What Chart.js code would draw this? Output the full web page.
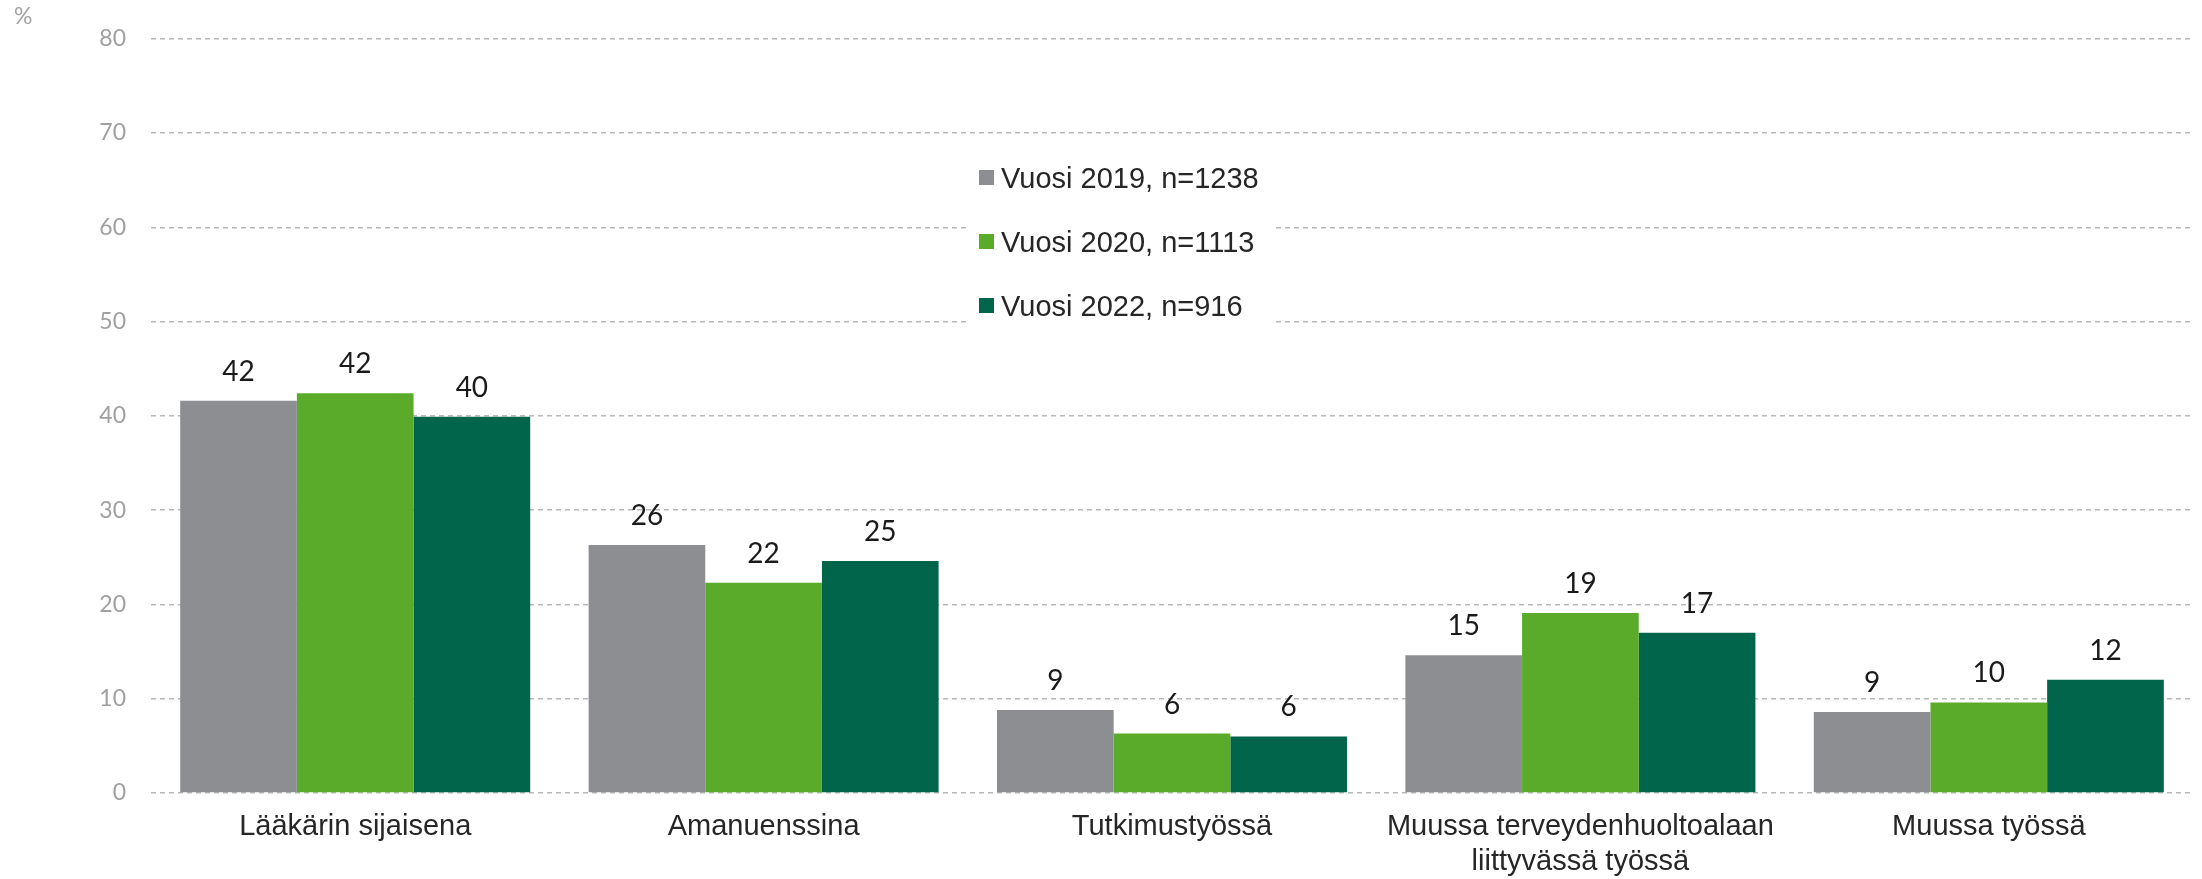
<!DOCTYPE html>
<html>
<head>
<meta charset="utf-8">
<script src="https://cdn.jsdelivr.net/npm/chart.js@4.4.0/dist/chart.umd.min.js"></script>
<style>
html,body{margin:0;padding:0;background:#fff;}
#wrap{position:relative;width:2202px;height:879px;}
</style>
</head>
<body>
<div id="wrap"><canvas id="c" width="2202" height="879"></canvas></div>
<script>
// ---- data ----
const categories = [
  'Lääkärin sijaisena',
  'Amanuenssina',
  'Tutkimustyössä',
  ['Muussa terveydenhuoltoalaan', 'liittyvässä työssä'],
  'Muussa työssä'
];
const seriesNames = ['Vuosi 2019, n=1238', 'Vuosi 2020, n=1113', 'Vuosi 2022, n=916'];
const values2019 = [41.6, 26.3, 8.8, 14.6, 8.6];
const values2020 = [42.4, 22.3, 6.3, 19.1, 9.6];
const values2022 = [39.9, 24.6, 6.0, 17.0, 12.0];
const yTickValues = [0, 10, 20, 30, 40, 50, 60, 70, 80];
const unitLabel = '%';

// ---- styles ----
const seriesColors = ['#8d8e92', '#5aab29', '#00654b'];

const valueLabels = {
  id: 'valueLabels',
  afterDatasetsDraw(chart) {
    const ctx = chart.ctx;
    ctx.save();
    ctx.font = '28px Lato';
    ctx.fillStyle = '#1a1a1a';
    ctx.textAlign = 'center';
    ctx.textBaseline = 'alphabetic';
    chart.data.datasets.forEach((ds, i) => {
      const meta = chart.getDatasetMeta(i);
      meta.data.forEach((bar, j) => {
        ctx.fillText(String(Math.round(ds.data[j])), bar.x, bar.y - 20);
      });
    });
    ctx.restore();
  }
};

const boxLegend = {
  id: 'boxLegend',
  afterDraw(chart) {
    const ctx = chart.ctx;
    ctx.save();
    // unit label
    ctx.font = '23px Lato';
    ctx.fillStyle = '#a3a3a3';
    ctx.textAlign = 'left';
    ctx.textBaseline = 'alphabetic';
    ctx.fillText(unitLabel, 14, 24);
    // legend box
    ctx.fillStyle = '#ffffff';
    ctx.fillRect(966, 145, 306, 190);
    ctx.font = '29px "Liberation Sans", Arial, sans-serif';
    chart.data.datasets.forEach((ds, i) => {
      const cy = 177.5 + i * 64;
      ctx.fillStyle = ds.backgroundColor;
      ctx.fillRect(979, cy - 7.5, 15, 15);
      ctx.fillStyle = '#262626';
      ctx.fillText(ds.label, 1001, cy + 10);
    });
    ctx.restore();
  }
};

new Chart(document.getElementById('c'), {
  type: 'bar',
  data: {
    labels: categories,
    datasets: [
      { label: seriesNames[0], data: values2019, backgroundColor: seriesColors[0] },
      { label: seriesNames[1], data: values2020, backgroundColor: seriesColors[1] },
      { label: seriesNames[2], data: values2022, backgroundColor: seriesColors[2] }
    ]
  },
  options: {
    responsive: false,
    devicePixelRatio: 1,
    animation: false,
    layout: { padding: { top: 36, right: 9, left: 0, bottom: 0 } },
    datasets: { bar: { categoryPercentage: 0.857, barPercentage: 1.0 } },
    plugins: {
      legend: { display: false },
      tooltip: { enabled: false }
    },
    scales: {
      x: {
        grid: { display: false, drawTicks: false },
        border: { display: false },
        ticks: {
          font: { family: '"Liberation Sans", Arial, sans-serif', size: 29, lineHeight: 1.2 },
          color: '#262626',
          padding: 17,
          maxRotation: 0,
          minRotation: 0,
          autoSkip: false
        },
        afterFit(scale) { scale.height = 86; }
      },
      y: {
        min: 0,
        max: 80,
        afterBuildTicks(scale) { scale.ticks = yTickValues.map(v => ({ value: v })); },
        grid: { color: '#b8b8b8', lineWidth: 1.4, drawTicks: false, borderDash: [5, 4] },
        border: { display: false, dash: [5, 4] },
        ticks: {
          font: { family: 'Lato', size: 23 },
          color: '#a0a0a0',
          padding: 25
        },
        afterFit(scale) { scale.width = 151; }
      }
    }
  },
  plugins: [valueLabels, boxLegend]
});
</script>
</body>
</html>
